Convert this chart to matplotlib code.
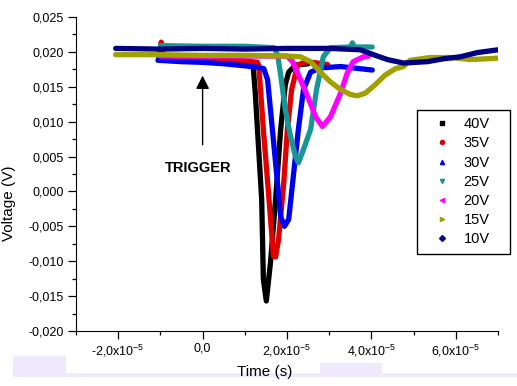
import matplotlib
matplotlib.use("Agg")
import matplotlib.pyplot as plt
from matplotlib.lines import Line2D
from matplotlib.patches import Rectangle
from matplotlib.ticker import MultipleLocator, FixedLocator, FixedFormatter

plt.rcParams['font.family'] = ['Liberation Sans', 'DejaVu Sans']

# time in units of 1e-5 s, voltage in V
t40 = [-1.0, 0.0, 1.0, 1.14, 1.20, 1.25, 1.30, 1.40, 1.44, 1.51, 1.61, 1.73, 1.85, 1.96, 2.04, 2.20, 2.50]
v40 = [0.0188, 0.0187, 0.0186, 0.0186, 0.0178, 0.0140, 0.0089, -0.0011, -0.0126, -0.0157, -0.0101, -0.0011, 0.0089, 0.0153, 0.0171, 0.0181, 0.0183]

t35 = [-1.04, -1.0, -0.98, -0.95, 0.0, 0.5, 1.0, 1.30, 1.33, 1.38, 1.44, 1.56, 1.68, 1.73, 1.80, 1.92, 2.01, 2.11, 2.25, 2.44, 2.72, 2.96]
v35 = [0.0191, 0.0205, 0.0214, 0.0193, 0.0191, 0.0190, 0.0187, 0.0185, 0.0180, 0.0140, 0.0089, -0.0001, -0.0093, -0.0094, -0.0069, 0.0010, 0.0089, 0.0146, 0.0181, 0.0186, 0.0184, 0.0182]

t30 = [-1.06, -0.5, 0.0, 0.5, 1.0, 1.30, 1.45, 1.54, 1.66, 1.85, 1.94, 2.04, 2.27, 2.39, 2.56, 2.79, 3.27, 4.02]
v30 = [0.0188, 0.0186, 0.0185, 0.0183, 0.0180, 0.0178, 0.0176, 0.0160, 0.0085, -0.0036, -0.0050, -0.0040, 0.0089, 0.0146, 0.0171, 0.0177, 0.0179, 0.0174]

t25 = [-1.0, 0.0, 1.0, 1.70, 1.78, 1.85, 1.96, 2.08, 2.20, 2.27, 2.39, 2.56, 2.70, 2.86, 3.03, 3.50, 3.55, 3.60, 4.02]
v25 = [0.0209, 0.0208, 0.0208, 0.0206, 0.0195, 0.0167, 0.0117, 0.0080, 0.0050, 0.0041, 0.0060, 0.0089, 0.0146, 0.0193, 0.0206, 0.0207, 0.0213, 0.0207, 0.0207]

t20 = [-1.0, 0.0, 1.0, 2.0, 2.13, 2.25, 2.49, 2.68, 2.84, 3.03, 3.27, 3.43, 3.57, 3.81, 3.93]
v20 = [0.0194, 0.0194, 0.0194, 0.0194, 0.0186, 0.0170, 0.0136, 0.0107, 0.0093, 0.0107, 0.0141, 0.0170, 0.0186, 0.0193, 0.0194]

t15 = [-2.06, -1.0, 0.0, 1.0, 2.0, 2.32, 2.56, 2.79, 3.03, 3.27, 3.50, 3.67, 3.86, 4.09, 4.33, 4.57, 4.76, 4.92, 5.40, 5.87, 6.34, 7.0]
v15 = [0.0196, 0.0196, 0.0195, 0.0195, 0.0194, 0.0193, 0.0186, 0.0171, 0.0157, 0.0146, 0.0139, 0.0137, 0.0141, 0.0153, 0.0167, 0.0176, 0.0179, 0.0188, 0.0192, 0.0192, 0.0189, 0.0191]

t10 = [-2.06, -1.0, 0.0, 1.0, 2.0, 3.0, 3.74, 4.05, 4.38, 4.76, 5.33, 5.70, 6.11, 6.51, 7.0]
v10 = [0.0205, 0.0204, 0.0205, 0.0204, 0.0205, 0.0205, 0.0203, 0.0196, 0.0189, 0.0184, 0.0186, 0.0190, 0.0193, 0.0199, 0.0203]

labels = ['40V', '35V', '30V', '25V', '20V', '15V', '10V']
colors = ['#000000', '#E00000', '#0000F0', '#189696', '#FF00FF', '#A0A000', '#000080']
markers = ['s', 'o', '^', 'v', '<', '>', 'D']
series = [(t40, v40), (t35, v35), (t30, v30), (t25, v25), (t20, v20), (t15, v15), (t10, v10)]

xticks = [-2e-5, 0.0, 2e-5, 4e-5, 6e-5]
xticklabels = [r'-2,0x10$^{\mathregular{-5}}$', '0,0', r'2,0x10$^{\mathregular{-5}}$',
               r'4,0x10$^{\mathregular{-5}}$', r'6,0x10$^{\mathregular{-5}}$']

fig = plt.figure(figsize=(5.17, 3.86), dpi=100)
ax = fig.add_axes([76/517, 1-331/386, 422/517, 314/386])

for (t, v), c in zip(series, colors):
    ax.plot([x*1e-5 for x in t], v, color=c, lw=3.8, solid_joinstyle='round', solid_capstyle='round')

ax.set_xlim(-3e-5, 7e-5)
ax.set_ylim(-0.02, 0.025)
ax.spines['top'].set_visible(False)
ax.spines['right'].set_visible(False)

ax.xaxis.set_major_locator(FixedLocator(xticks))
ax.xaxis.set_major_formatter(FixedFormatter(xticklabels))
ax.xaxis.set_minor_locator(MultipleLocator(1e-5))
ax.yaxis.set_major_locator(MultipleLocator(0.005))
ax.yaxis.set_minor_locator(MultipleLocator(0.0025))
ax.yaxis.set_major_formatter(plt.FuncFormatter(lambda v, p: ('%.3f' % v).replace('.', ',').replace('-0,000', '0,000')))
ax.tick_params(which='major', direction='out', length=5.5, width=0.9, labelsize=9, pad=3)
ax.tick_params(which='minor', direction='out', length=3, width=0.9)

fig.text(9/517, 1-203/386, 'Voltage (V)', rotation=90, ha='center', va='center', fontsize=11)
fig.text(265/517, 1-372/386, 'Time (s)', ha='center', va='center', fontsize=11)

ax.text(-0.1e-5, 0.0034, 'TRIGGER', ha='center', va='center', fontsize=10.5, weight='bold')
ax.annotate('', xy=(0, 0.0170), xytext=(0, 0.0063),
            arrowprops=dict(arrowstyle='-|>,head_length=0.8,head_width=0.4', color='k', lw=1, mutation_scale=10))

# legend: markers only, box drawn separately
handles = [Line2D([], [], ls='none', marker=m, color=c, markersize=3) for m, c in zip(markers, colors)]
fig.legend(handles, labels, loc='upper left', bbox_to_anchor=(417/517, 1-110/386),
           frameon=False, fontsize=10.5, handlelength=2.4, handletextpad=0.3,
           labelspacing=0.355, borderpad=0.5, borderaxespad=0)
fig.add_artist(Rectangle((417/517, 1-254/386), 93/517, 144/386, transform=fig.transFigure,
                         fill=False, edgecolor='black', lw=1))

lav = '#EEEAFB'
fig.add_artist(Rectangle((13/517, 9/386), 53/517, 21/386, transform=fig.transFigure, color=lav, lw=0))
fig.add_artist(Rectangle((320/517, 9/386), 62/517, 14/386, transform=fig.transFigure, color=lav, lw=0))
fig.add_artist(Rectangle((66/517, 9/386), 451/517, 4/386, transform=fig.transFigure, color=lav, lw=0))

fig.savefig('out.png', dpi=100)
